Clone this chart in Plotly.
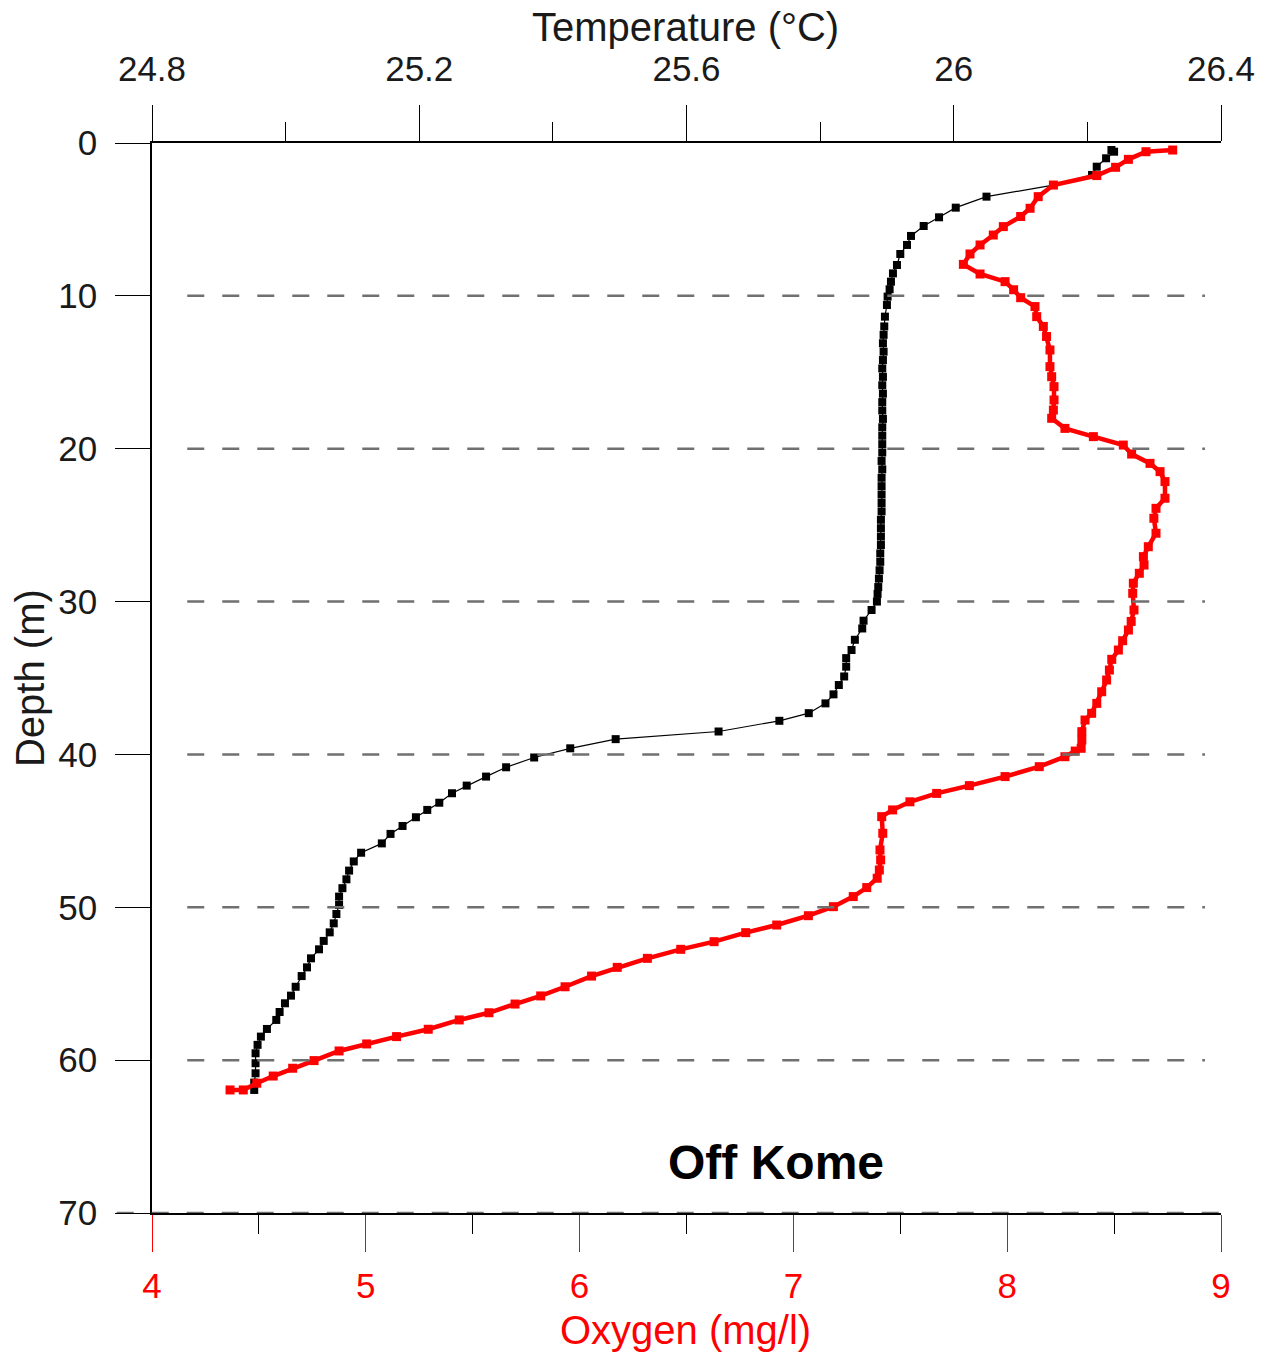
import plotly.graph_objects as go

# ---- Data ----
temp_depth = [0.46, 0.57, 1.0, 1.55, 2.09, 2.75, 3.51, 4.23, 4.86, 5.43, 6.08, 6.67, 7.26, 7.98, 8.53,
              9.07, 9.57, 10.05, 10.6, 11.36, 12.0, 12.55, 13.1, 13.65, 14.2, 14.75, 15.3, 15.85, 16.4,
              16.95, 17.5, 18.05, 18.6, 19.15, 19.7, 20.25, 20.8, 21.35, 21.9, 22.45, 23.0, 23.55, 24.1,
              24.65, 25.2, 25.75, 26.3, 26.85, 27.4, 27.95, 28.5, 29.05, 29.5, 30.0, 30.55, 31.25, 31.76,
              32.5, 33.17, 33.7, 34.26, 34.9, 35.46, 36.07, 36.66, 37.3, 37.8, 38.5, 39.0, 39.6, 40.2,
              40.84, 41.45, 42.04, 42.54, 43.16, 43.63, 44.11, 44.68, 45.2, 45.82, 46.43, 47.0, 47.6,
              48.17, 48.75, 49.3, 49.85, 50.44, 51.05, 51.64, 52.2, 52.75, 53.34, 53.93, 54.5, 55.2,
              55.78, 56.28, 56.85, 57.37, 57.96, 58.46, 59.0, 59.55, 60.2, 60.86, 61.47, 61.95]
temperature = [26.236, 26.240, 26.228, 26.214, 26.207, 26.149, 26.049, 26.003, 25.978, 25.955, 25.936,
               25.930, 25.920, 25.915, 25.909, 25.906, 25.904, 25.901, 25.900, 25.897, 25.896, 25.895,
               25.894, 25.895, 25.894, 25.893, 25.894, 25.893, 25.894, 25.893, 25.893, 25.894, 25.893,
               25.893, 25.893, 25.893, 25.892, 25.893, 25.892, 25.892, 25.892, 25.892, 25.892, 25.891,
               25.891, 25.891, 25.891, 25.890, 25.890, 25.889, 25.888, 25.887, 25.886, 25.885, 25.877,
               25.865, 25.863, 25.852, 25.847, 25.839, 25.839, 25.836, 25.828, 25.820, 25.808, 25.783,
               25.739, 25.648, 25.494, 25.426, 25.372, 25.330, 25.300, 25.271, 25.249, 25.230, 25.212,
               25.195, 25.175, 25.157, 25.144, 25.113, 25.102, 25.095, 25.091, 25.085, 25.080, 25.080,
               25.076, 25.072, 25.066, 25.057, 25.050, 25.038, 25.032, 25.024, 25.015, 25.008, 24.999,
               24.991, 24.986, 24.972, 24.963, 24.958, 24.955, 24.955, 24.955, 24.953, 24.953]

oxy_depth = [0.46, 0.57, 1.07, 1.59, 2.13, 2.75, 3.51, 4.27, 4.81, 5.47, 6.02, 6.67, 7.26, 7.94, 8.57,
             9.07, 9.6, 10.12, 10.7, 11.36, 12.0, 12.66, 13.54, 14.63, 15.29, 15.94, 16.81, 17.47,
             18.01, 18.67, 19.21, 19.76, 20.35, 20.96, 21.5, 22.15, 23.24, 23.9, 24.55, 25.53, 26.41,
             27.06, 27.61, 28.15, 28.8, 29.46, 30.55, 31.3, 31.86, 32.56, 33.17, 33.78, 34.48, 35.13,
             35.9, 36.66, 37.31, 37.75, 38.51, 39.06, 39.6, 39.78, 40.15, 40.8, 41.45, 42.04, 42.55,
             43.1, 43.63, 44.07, 45.16, 46.25, 46.9, 47.56, 48.1, 48.71, 49.3, 49.96, 50.55, 51.16,
             51.66, 52.25, 52.75, 53.34, 53.93, 54.5, 55.2, 55.8, 56.33, 56.9, 57.37, 57.98, 58.46,
             58.94, 59.4, 60.03, 60.53, 61.04, 61.51, 61.95, 61.95]
oxygen = [8.774, 8.649, 8.567, 8.507, 8.419, 8.216, 8.145, 8.107, 8.063, 7.982, 7.935, 7.873, 7.826,
          7.795, 7.873, 7.990, 8.030, 8.063, 8.130, 8.138, 8.169, 8.184, 8.200, 8.200, 8.208, 8.219,
          8.219, 8.216, 8.208, 8.270, 8.403, 8.543, 8.582, 8.668, 8.715, 8.738, 8.738, 8.696, 8.686,
          8.696, 8.660, 8.637, 8.640, 8.618, 8.590, 8.587, 8.593, 8.580, 8.567, 8.540, 8.520, 8.489,
          8.478, 8.465, 8.442, 8.419, 8.395, 8.364, 8.349, 8.349, 8.346, 8.318, 8.270, 8.150, 7.990,
          7.823, 7.670, 7.545, 7.464, 7.413, 7.418, 7.405, 7.408, 7.402, 7.392, 7.343, 7.280, 7.187,
          7.070, 6.922, 6.777, 6.629, 6.473, 6.317, 6.176, 6.056, 5.932, 5.818, 5.698, 5.576, 5.437,
          5.292, 5.144, 5.004, 4.875, 4.758, 4.658, 4.567, 4.490, 4.427, 4.365]

temp_ticks = [24.8, 25.2, 25.6, 26.0, 26.4]
temp_tick_text = ["24.8", "25.2", "25.6", "26", "26.4"]
temp_minor = [25.0, 25.4, 25.8, 26.2]
oxy_ticks = [4, 5, 6, 7, 8, 9]
depth_ticks = [0, 10, 20, 30, 40, 50, 60, 70]
grid_depths = [10, 20, 30, 40, 50, 60, 70]

FONT = "Liberation Sans, Arial, sans-serif"
TXT = "#1a1a1a"

fig = go.Figure()

fig.add_trace(go.Scatter(
    x=temperature, y=temp_depth, xaxis="x", yaxis="y", mode="lines+markers",
    line=dict(color="black", width=1.2),
    marker=dict(symbol="square", size=8, color="black"),
    showlegend=False, name="Temperature"))

fig.add_trace(go.Scatter(
    x=oxygen, y=oxy_depth, xaxis="x2", yaxis="y", mode="lines+markers",
    line=dict(color="#ff0000", width=4.5),
    marker=dict(symbol="square", size=9, color="#ff0000"),
    showlegend=False, name="Oxygen"))

shapes = []
for d in grid_depths:
    shapes.append(dict(type="line", xref="paper", yref="y",
                       x0=(0.033 if d < 70 else -0.033), x1=(0.985 if d < 70 else 1.0),
                       y0=d, y1=d,
                       line=dict(color="#707070", width=2.5, dash="17px,18px"),
                       layer="above"))

annotations = [
    dict(text="Temperature (°C)", xref="paper", yref="paper", x=0.4995, y=1.1084,
         showarrow=False, font=dict(family=FONT, size=40, color=TXT),
         xanchor="center", yanchor="middle"),
    dict(text="Oxygen (mg/l)", xref="paper", yref="paper", x=0.4995, y=-0.1093,
         showarrow=False, font=dict(family=FONT, size=40, color="#ff0000"),
         xanchor="center", yanchor="middle"),
    dict(text="Depth (m)", xref="paper", yref="paper", x=-0.1141, y=0.5, textangle=-90,
         showarrow=False, font=dict(family=FONT, size=40, color=TXT),
         xanchor="center", yanchor="middle"),
    dict(text="<b>Off Kome</b>", xref="paper", yref="y", x=0.584, y=66.7,
         showarrow=False, font=dict(family=FONT, size=48, color="black"),
         xanchor="center", yanchor="middle"),
]

fig.update_layout(
    width=1268, height=1352,
    margin=dict(l=152, r=47, t=143, b=139, autoexpand=False),
    paper_bgcolor="white", plot_bgcolor="white",
    font=dict(family=FONT, color=TXT),
    shapes=shapes, annotations=annotations,
    xaxis=dict(
        side="top", range=[24.8, 26.4], anchor="y",
        tickmode="array", tickvals=temp_ticks, ticktext=temp_tick_text,
        ticks="outside", ticklen=36, tickwidth=1.3, tickcolor="black",
        minor=dict(tickmode="array", tickvals=temp_minor, ticks="outside", ticklen=19,
                   tickwidth=1.3, tickcolor="black", showgrid=False),
        showline=True, linecolor="black", linewidth=1.5, mirror=False,
        showgrid=False, zeroline=False,
        tickfont=dict(family=FONT, size=35, color=TXT), ticklabelstandoff=10),
    xaxis2=dict(
        side="bottom", range=[4, 9], overlaying="x", anchor="y",
        tickmode="array", tickvals=oxy_ticks,
        ticks="outside", ticklen=37, tickwidth=1.3, tickcolor="#ff0000",
        minor=dict(dtick=0.5, ticks="outside", ticklen=19, tickwidth=1.3,
                   tickcolor="black", showgrid=False),
        showline=True, linecolor="black", linewidth=1.5,
        showgrid=False, zeroline=False,
        tickfont=dict(family=FONT, size=35, color="#ff0000"), ticklabelstandoff=4),
    yaxis=dict(
        range=[70, 0], tickmode="array", tickvals=depth_ticks,
        ticks="outside", ticklen=35, tickwidth=1.3, tickcolor="black",
        showline=True, linecolor="black", linewidth=1.5,
        showgrid=False, zeroline=False,
        tickfont=dict(family=FONT, size=35, color=TXT), ticklabelstandoff=11),
)

fig.write_html("out.html")
